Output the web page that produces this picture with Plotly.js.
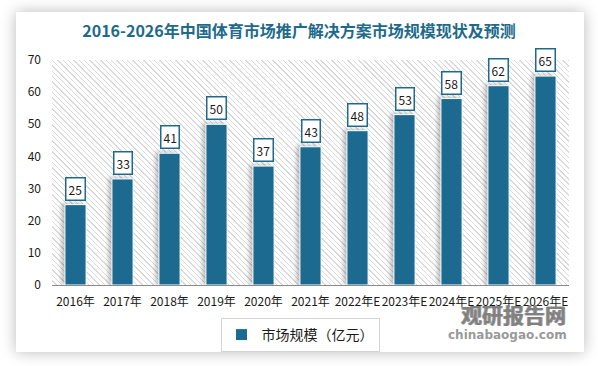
<!DOCTYPE html>
<html>
<head>
<meta charset="utf-8">
<script src="https://cdn.plot.ly/plotly-3.0.1.min.js"></script>
<style>
  html, body { margin: 0; padding: 0; background: #ffffff; width: 598px; height: 366px; overflow: hidden; }
  #card { position: absolute; left: 16px; top: 12px; width: 568px; height: 340px; background: #ffffff;
          box-shadow: 0 0 14px rgba(0,0,0,0.28); }
  #hatch { position: absolute; left: 52px; top: 60px; width: 517px; height: 225px;
           background: repeating-linear-gradient(45deg, #ffffff 0px, #ffffff 2.8px, #dadada 2.8px, #dadada 3.8px); }
  #chart { position: absolute; left: 0; top: 0; width: 598px; height: 366px; }
  #chart .bars path { filter: drop-shadow(-3px -1px 2px rgba(0,0,0,0.25)); }
</style>
</head>
<body>
<div id="card"></div>
<div id="hatch"></div>
<div id="chart"></div>
<script>
const categories = ['2016年','2017年','2018年','2019年','2020年','2021年','2022年E','2023年E','2024年E','2025年E','2026年E'];
const marketSize = [25, 33, 41, 50, 37, 43, 48, 53, 58, 62, 65];
const seriesName = '市场规模（亿元）';
const yTicks = [0, 10, 20, 30, 40, 50, 60, 70];
const titleText = '2016-2026年中国体育市场推广解决方案市场规模现状及预测';

const barColor = '#1c6a8f';
const fontFam = '"Noto Sans CJK SC", "Noto Sans", "DejaVu Sans", sans-serif';

const trace = {
  type: 'bar',
  x: categories,
  y: marketSize,
  name: seriesName,
  marker: { color: barColor, line: { color: '#ffffff', width: 1 } },
  hoverinfo: 'x+y'
};

const labelAnns = categories.map((c, i) => ({
  x: c, y: marketSize[i], xref: 'x', yref: 'y',
  text: String(marketSize[i]), showarrow: false,
  yanchor: 'bottom', yshift: 4,
  bgcolor: '#ffffff', bordercolor: barColor, borderwidth: 1.5, borderpad: 2,
  font: { family: fontFam, size: 12, color: '#1a1a1a' }
}));

// plot area: x 52..569, y 60..285 (pixels)
const px = v => (v - 52) / 517;
const py = v => (285 - v) / 225;

const wmColor = 'rgba(125,125,125,0.8)';
const watermark = [
  { xref: 'paper', yref: 'paper', x: px(568), y: py(314), xanchor: 'right', yanchor: 'middle',
    text: '<b>观研报告网</b>', showarrow: false,
    font: { family: fontFam, size: 21, weight: 900, color: wmColor,
            shadow: '0.7px 0 0 ' + wmColor + ', -0.7px 0 0 ' + wmColor } },
  { xref: 'paper', yref: 'paper', x: px(569), y: py(335), xanchor: 'right', yanchor: 'middle',
    text: '<b>chinabaogao.com</b>', showarrow: false,
    font: { family: '"DejaVu Sans", sans-serif', size: 12, color: wmColor } }
];

const layout = {
  width: 598, height: 366,
  margin: { l: 52, r: 29, t: 60, b: 81, pad: 0 },
  paper_bgcolor: 'rgba(0,0,0,0)',
  plot_bgcolor: 'rgba(0,0,0,0)',
  bargap: 0.55,
  title: {
    text: '<b>' + titleText + '</b>',
    x: 0.5, xanchor: 'center', y: 1 - 31/366, yanchor: 'middle',
    font: { family: fontFam, size: 16, color: '#1d6a8c' }
  },
  xaxis: {
    type: 'category',
    showline: true, linecolor: '#8c8c8c', linewidth: 1,
    showgrid: false, zeroline: false, ticks: '',
    tickangle: 0,
    ticklabelstandoff: 6,
    tickfont: { family: fontFam, size: 12, color: '#1a1a1a' },
    fixedrange: true
  },
  yaxis: {
    range: [0, 70], tickvals: yTicks, ticktext: yTicks.map(String),
    showgrid: false, zeroline: false, showline: false, ticks: '',
    ticklabelstandoff: 10,
    tickfont: { family: fontFam, size: 12, color: '#1a1a1a' },
    fixedrange: true
  },
  showlegend: true,
  legend: {
    orientation: 'h',
    xref: 'container', yref: 'container',
    x: 300/598, xanchor: 'center',
    y: 1 - 318/366, yanchor: 'top',
    bordercolor: '#d4d4d4', borderwidth: 1,
    bgcolor: '#ffffff',
    font: { family: fontFam, size: 14, color: '#1a1a1a' },
    itemwidth: 30
  },
  annotations: labelAnns.concat(watermark)
};

Plotly.newPlot('chart', [trace], layout, { displayModeBar: false, staticPlot: true });
</script>
</body>
</html>
